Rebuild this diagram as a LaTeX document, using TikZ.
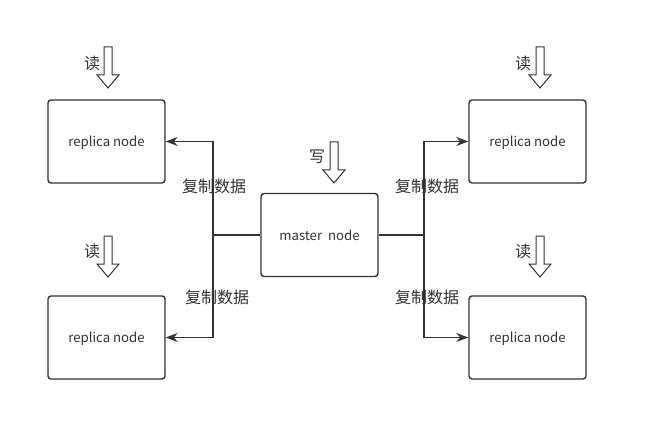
\documentclass[tikz,border=0pt]{standalone}
\usepackage{fontspec}
\setmainfont{Noto Sans CJK SC}
\usetikzlibrary{arrows.meta}

\definecolor{inkgray}{HTML}{333333}

\tikzset{
  replicabox/.style={draw=inkgray, line width=1.4pt, rounded corners=3pt,
    minimum width=117pt, minimum height=83pt, text height=10pt, text depth=0pt,
    font=\fontsize{13.2}{15}\selectfont, text=inkgray},
  copylabel/.style={font=\fontsize{16}{18}\selectfont, text=inkgray},
  flow/.style={draw=inkgray, line width=1.4pt},
  blockarrow/.pic={
    \draw[inkgray, line width=1pt] (-4,0) -- (-4,28) -- (-11,28) -- (0,41)
      -- (11,28) -- (4,28) -- (4,0) -- cycle;
  }
}

\begin{document}
\begin{tikzpicture}[x=1pt, y=-1pt]
  \useasboundingbox (0,0) rectangle (648,441);

  % nodes
  \node[replicabox] (rlt) at (106.5,141.5) {replica node};
  \node[replicabox] (rlb) at (106.5,337.5) {replica node};
  \node[replicabox] (rrt) at (527.5,141.5) {replica node};
  \node[replicabox] (rrb) at (527.5,337.5) {replica node};
  \node[replicabox] (master) at (319.5,235) {master\ \ node};

  % copy paths
  \coordinate (busL) at (213,235);
  \coordinate (busR) at (424,235);
  \draw[flow] (master.west) -- (busL);
  \draw[flow] (master.east) -- (busR);
  \draw[flow, -{Stealth[length=12pt, width=9pt]}] (busL) |- (rlt.east);
  \draw[flow, -{Stealth[length=12pt, width=9pt]}] (busL) |- (rlb.east);
  \draw[flow, -{Stealth[length=12pt, width=9pt]}] (busR) |- (rrt.west);
  \draw[flow, -{Stealth[length=12pt, width=9pt]}] (busR) |- (rrb.west);

  \node[copylabel] (clt) at (214,186) {复制数据};
  \node[copylabel] (clb) at (217,297) {复制数据};
  \node[copylabel] (crt) at (427,186) {复制数据};
  \node[copylabel] (crb) at (427,297) {复制数据};

  % read / write
  \pic at (108,47) {blockarrow};
  \pic at (108,236) {blockarrow};
  \pic at (540,47) {blockarrow};
  \pic at (540,236) {blockarrow};
  \pic at (334,142) {blockarrow};
  \node[copylabel] (rdlt) at (92,63) {读};
  \node[copylabel] (rdlb) at (92,251) {读};
  \node[copylabel] (rdrt) at (523,63) {读};
  \node[copylabel] (rdrb) at (523,251) {读};
  \node[copylabel] (wr) at (317,157) {写};
\end{tikzpicture}
\end{document}
